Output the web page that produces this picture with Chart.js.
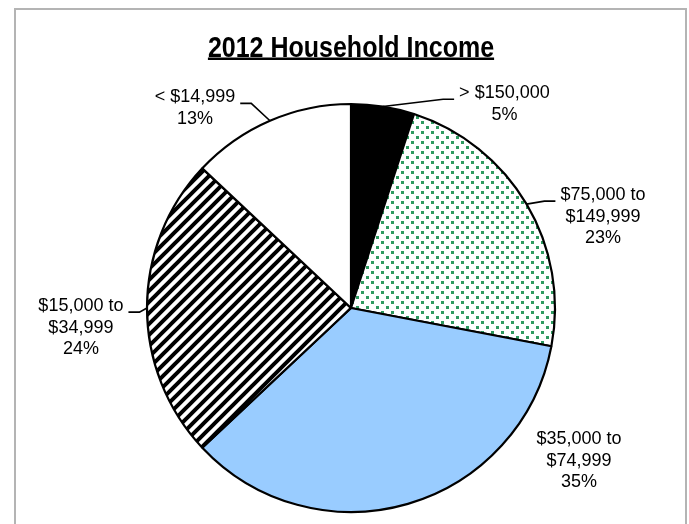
<!DOCTYPE html>
<html>
<head>
<meta charset="utf-8">
<script src="https://cdn.jsdelivr.net/npm/chart.js@4.4.1/dist/chart.umd.min.js"></script>
<style>
  html, body { margin: 0; padding: 0; background: #fff; }
  #wrap { width: 689px; height: 524px; position: relative; }
</style>
</head>
<body>
<div id="wrap"><canvas id="income-chart"></canvas></div>
<script>
// data, clockwise from 12 o'clock
const chartTitle = "2012 Household Income";
const categories = [
  ["> $150,000"],
  ["$75,000 to", "$149,999"],
  ["$35,000 to", "$74,999"],
  ["$15,000 to", "$34,999"],
  ["< $14,999"]
];
const shares = [5, 23, 35, 24, 13];

// where each label sits, as a fraction of the radius from the pie centre
const labelPlaces = [
  { dx: 0.752, dy: -1.0, leader: true },
  { dx: 1.235, dy: -0.448, leader: true },
  { dx: 1.118, dy: 0.75, leader: false },
  { dx: -1.324, dy: 0.096, leader: true },
  { dx: -0.765, dy: -0.98, leader: true }
];

function stripePattern() {
  const s = 11;
  const c = document.createElement("canvas");
  c.width = c.height = s;
  const g = c.getContext("2d");
  g.fillStyle = "#fff";
  g.fillRect(0, 0, s, s);
  g.strokeStyle = "#000";
  g.lineWidth = 4;
  g.beginPath();
  g.moveTo(-5, 5); g.lineTo(5, -5);
  g.moveTo(-2, s + 2); g.lineTo(s + 2, -2);
  g.moveTo(s - 5, s + 5); g.lineTo(s + 5, s - 5);
  g.stroke();
  return g.createPattern(c, "repeat");
}

function dotPattern() {
  const c = document.createElement("canvas");
  c.width = c.height = 10;
  const g = c.getContext("2d");
  g.fillStyle = "#fff";
  g.fillRect(0, 0, 10, 10);
  g.fillStyle = "#2f9a60";
  g.fillRect(1, 1, 3, 3);
  g.fillRect(6, 6, 3, 3);
  return g.createPattern(c, "repeat");
}

const frameAndTitle = {
  id: "frameAndTitle",
  beforeDraw(chart) {
    const ctx = chart.ctx;
    ctx.save();
    ctx.strokeStyle = "#b4b4b4";
    ctx.lineWidth = 2;
    ctx.beginPath();
    ctx.moveTo(15, 530);
    ctx.lineTo(15, 9);
    ctx.lineTo(686, 9);
    ctx.lineTo(686, 530);
    ctx.stroke();
    ctx.restore();
  },
  afterDraw(chart) {
    const ctx = chart.ctx;
    ctx.save();
    ctx.font = "bold 25px 'Liberation Sans', Arial, sans-serif";
    ctx.fillStyle = "#000";
    ctx.textAlign = "center";
    ctx.textBaseline = "alphabetic";
    const w = ctx.measureText(chartTitle).width;
    ctx.translate(351, 56.5);
    ctx.scale(1, 1.15);
    ctx.fillText(chartTitle, 0, 0);
    ctx.restore();
    ctx.save();
    ctx.fillStyle = "#000";
    ctx.fillRect(351 - w / 2, 57.5, w, 2.5);
    ctx.restore();
  }
};

const sliceLabels = {
  id: "sliceLabels",
  afterDatasetsDraw(chart) {
    const ctx = chart.ctx;
    const arcs = chart.getDatasetMeta(0).data;
    const lineH = 21.5;
    ctx.save();
    ctx.font = "18px 'Liberation Sans', Arial, sans-serif";
    ctx.fillStyle = "#000";
    ctx.strokeStyle = "#000";
    ctx.textAlign = "center";
    ctx.textBaseline = "middle";
    arcs.forEach((arc, i) => {
      const p = arc.getProps(["x", "y", "outerRadius", "startAngle", "endAngle"], true);
      const lines = categories[i].concat(shares[i] + "%");
      const place = labelPlaces[i];
      const cx = p.x + place.dx * p.outerRadius;
      const cy = p.y + place.dy * p.outerRadius;
      const top = cy - (lines.length - 1) * lineH / 2;
      lines.forEach((t, k) => ctx.fillText(t, cx, top + k * lineH));
      if (place.leader) {
        const mid = (p.startAngle + p.endAngle) / 2;
        const ax = p.x + Math.cos(mid) * p.outerRadius;
        const ay = p.y + Math.sin(mid) * p.outerRadius;
        const w = Math.max(...lines.map((t) => ctx.measureText(t).width));
        const side = cx > p.x ? -1 : 1;
        const endX = cx + side * (w / 2 + 5);
        const elbowX = endX + side * 11;
        const ly = top + 6;
        ctx.beginPath();
        ctx.moveTo(ax, ay);
        ctx.lineTo(elbowX, ly);
        ctx.lineTo(endX, ly);
        ctx.lineWidth = 1.6;
        ctx.stroke();
      }
    });
    ctx.restore();
  }
};

const ctx = document.getElementById("income-chart").getContext("2d");

const chart = new Chart(ctx, {
  type: "pie",
  data: {
    labels: categories.map((c) => c.join(" ")),
    datasets: [
      {
        data: shares,
        backgroundColor: ["#000000", dotPattern(), "#99ccff", stripePattern(), "#ffffff"],
        borderColor: "#000",
        borderWidth: 2.2
      }
    ]
  },
  options: {
    responsive: true,
    maintainAspectRatio: false,
    animation: false,
    radius: 204,
    layout: { padding: { left: 20, right: 7, top: 100, bottom: 8 } },
    plugins: {
      legend: { display: false },
      tooltip: { enabled: false },
      title: { display: false }
    }
  },
  plugins: [frameAndTitle, sliceLabels]
});
</script>
</body>
</html>
